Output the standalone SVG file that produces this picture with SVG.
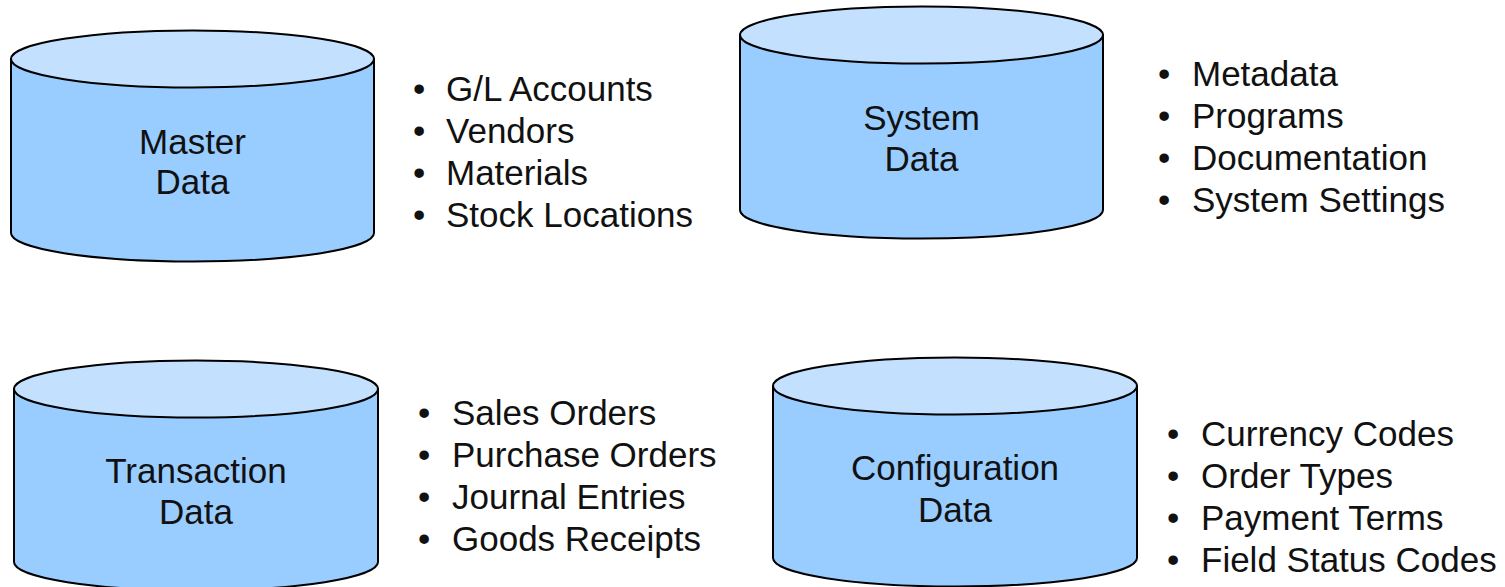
<svg xmlns="http://www.w3.org/2000/svg" width="1505" height="587" viewBox="0 0 1505 587">
<style>
.body{fill:#99CCFF;stroke:#000;stroke-width:2}
.top{fill:#C3E1FF;stroke:#000;stroke-width:2}
.lbl{font-family:"Liberation Sans",Arial,sans-serif;font-size:35px;fill:#111;text-anchor:middle}
.item{font-family:"Liberation Sans",Arial,sans-serif;font-size:35px;fill:#111}
</style>
<rect width="1505" height="587" fill="#fff"/>
<g id="master">
<path class="body" d="M11,59 L11,233 A181.5,28.5 0 0 0 374,233 L374,59 Z"/>
<ellipse class="top" cx="192.5" cy="59" rx="181.5" ry="28.5"/>
<text class="lbl" x="192.5" y="154">Master</text>
<text class="lbl" x="192.5" y="194">Data</text>
</g>
<g id="master-list">
<text class="item" x="413" y="101">•</text><text class="item" x="446" y="101">G/L Accounts</text>
<text class="item" x="413" y="143">•</text><text class="item" x="446" y="143">Vendors</text>
<text class="item" x="413" y="185">•</text><text class="item" x="446" y="185">Materials</text>
<text class="item" x="413" y="227">•</text><text class="item" x="446" y="227">Stock Locations</text>
</g>
<g id="system">
<path class="body" d="M740,35 L740,210 A181.5,28.5 0 0 0 1103,210 L1103,35 Z"/>
<ellipse class="top" cx="921.5" cy="35" rx="181.5" ry="28.5"/>
<text class="lbl" x="921.5" y="130">System</text>
<text class="lbl" x="921.5" y="171">Data</text>
</g>
<g id="system-list">
<text class="item" x="1158" y="86">•</text><text class="item" x="1192" y="86">Metadata</text>
<text class="item" x="1158" y="128">•</text><text class="item" x="1192" y="128">Programs</text>
<text class="item" x="1158" y="170">•</text><text class="item" x="1192" y="170">Documentation</text>
<text class="item" x="1158" y="212">•</text><text class="item" x="1192" y="212">System Settings</text>
</g>
<g id="transaction">
<path class="body" d="M14,389 L14,562 A182,28.5 0 0 0 378,562 L378,389 Z"/>
<ellipse class="top" cx="196" cy="389" rx="182" ry="28.5"/>
<text class="lbl" x="196" y="483">Transaction</text>
<text class="lbl" x="196" y="524">Data</text>
</g>
<g id="transaction-list">
<text class="item" x="418" y="425">•</text><text class="item" x="452" y="425">Sales Orders</text>
<text class="item" x="418" y="467">•</text><text class="item" x="452" y="467">Purchase Orders</text>
<text class="item" x="418" y="509">•</text><text class="item" x="452" y="509">Journal Entries</text>
<text class="item" x="418" y="551">•</text><text class="item" x="452" y="551">Goods Receipts</text>
</g>
<g id="configuration">
<path class="body" d="M773,386 L773,558 A182,28.5 0 0 0 1137,558 L1137,386 Z"/>
<ellipse class="top" cx="955" cy="386" rx="182" ry="28.5"/>
<text class="lbl" x="955" y="480">Configuration</text>
<text class="lbl" x="955" y="522">Data</text>
</g>
<g id="configuration-list">
<text class="item" x="1167" y="446">•</text><text class="item" x="1201" y="446">Currency Codes</text>
<text class="item" x="1167" y="488">•</text><text class="item" x="1201" y="488">Order Types</text>
<text class="item" x="1167" y="530">•</text><text class="item" x="1201" y="530">Payment Terms</text>
<text class="item" x="1167" y="572">•</text><text class="item" x="1201" y="572">Field Status Codes</text>
</g>
<g id="connectors"></g>
</svg>
